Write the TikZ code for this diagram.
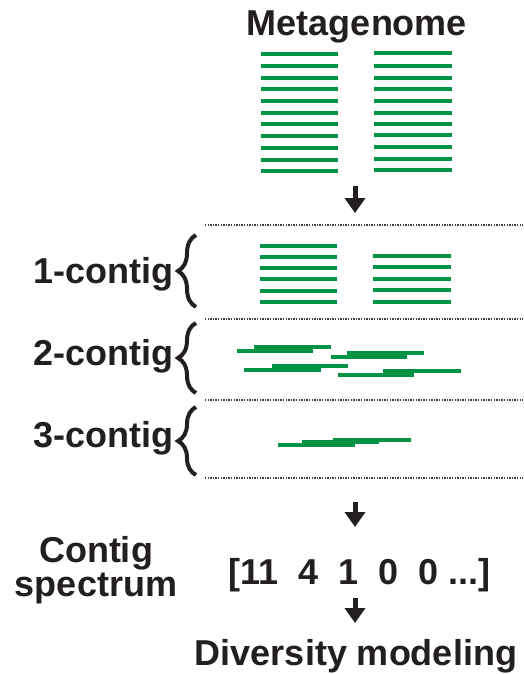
\documentclass[tikz,border=0pt]{standalone}
\usepackage{fontspec}
\setmainfont{Liberation Sans}
\usetikzlibrary{arrows.meta,decorations.pathreplacing}
\definecolor{readgreen}{RGB}{0,146,69}
\definecolor{ink}{RGB}{35,31,32}
\begin{document}
\begin{tikzpicture}[x=1pt,y=-1pt,
  lbl/.style={inner sep=0pt,text=ink,font=\fontsize{36}{34}\selectfont\bfseries},
  read/.style={draw=readgreen,line width=4pt},
  sep/.style={draw=black!75,line width=1.3pt,dash pattern=on 1.3pt off 1.3pt},
  bracebar/.style={draw=ink,line width=4pt,decorate,decoration={brace,amplitude=18pt,aspect=0.5}},
  flow/.style={draw=ink,fill=ink,line width=5pt,-{Triangle[width=20pt,length=15pt]}}]
\useasboundingbox (0,0) rectangle (523,674);

% title
\node[lbl,anchor=base] (meta) at (357,36) {Metagenome};

% metagenome reads, two columns
\foreach \y in {54,66.5,78.5,89,101.5,113,124.5,135.5,148,159.5,170.5}
  \draw[read] (261,\y) -- (338,\y);
\foreach \y in {53.3,66,77.7,88.7,101,112.7,124,135,147,159,170}
  \draw[read] (374,\y) -- (452,\y);

% separators
\foreach \y/\n in {225/s0,319/s1,400/s2,478/s3}
  \draw[sep] (205,\y) coordinate (\n L) -- (523,\y) coordinate (\n R);

% first arrow
\coordinate (a1s) at (355,186);
\coordinate (a1e) at (355,213);
\draw[flow] (a1s) -- (a1e);

% 1-contig band
\node[lbl,anchor=base east] (c1) at (174,283) {1-contig};
\draw[bracebar] (196,307) -- (196,235);
\foreach \y in {245.7,256.7,267.7,279.3,291,302.3}
  \draw[read] (260,\y) -- (337,\y);
\foreach \y in {255.7,266.7,279,290.3,301.7}
  \draw[read] (373,\y) -- (451,\y);

% 2-contig band
\node[lbl,anchor=base east] (c2) at (174,365) {2-contig};
\draw[bracebar] (196,393) -- (196,323);
\foreach \xa/\xb/\y in {237/313/351,254/331/347,331/407/357,347/424/353,
                        244/321/370,272/348/366,338/414/375,383/461/371}
  \draw[read] (\xa,\y) -- (\xb,\y);

% 3-contig band
\node[lbl,anchor=base east] (c3) at (174,447) {3-contig};
\draw[bracebar] (196,475) -- (196,407);
\foreach \xa/\xb/\y in {278/355/445,302/379/442,333/411/439.5}
  \draw[read] (\xa,\y) -- (\xb,\y);

% spectrum
\coordinate (a2s) at (355,502);
\coordinate (a2e) at (355,527);
\draw[flow] (a2s) -- (a2e);
\node[lbl,align=center,anchor=base] (spec) at (96,596) {Contig\\spectrum};
\node[lbl,anchor=base west] (vec) at (228,584) {[11\ \ 4\ \ 1\ \ 0\ \ 0 ...]};

% modeling
\coordinate (a3s) at (355,598);
\coordinate (a3e) at (355,623);
\draw[flow] (a3s) -- (a3e);
\node[lbl,anchor=base] (model) at (356,665) {Diversity modeling};
\end{tikzpicture}
\end{document}
